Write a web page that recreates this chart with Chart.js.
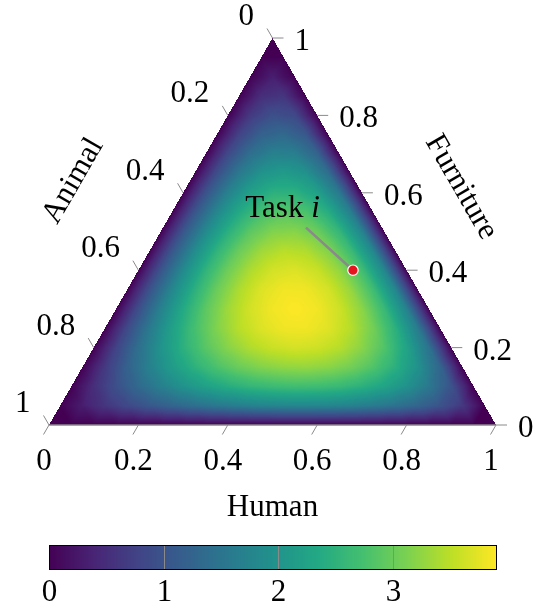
<!DOCTYPE html>
<html>
<head>
<meta charset="utf-8">
<script src="https://cdn.jsdelivr.net/npm/chart.js@4.4.0/dist/chart.umd.min.js"></script>
<style>
  html, body { margin: 0; padding: 0; background: #fff; }
  #wrap { position: relative; width: 533px; height: 606px; }
</style>
</head>
<body>
<div id="wrap"><canvas id="chart" width="533" height="606"></canvas></div>
<script>
// ternary axes: Human along the bottom, Furniture on the right, Animal on the left
const axisTitles = { human: 'Human', animal: 'Animal', furniture: 'Furniture' };
const ternaryTicks = [0, 0.2, 0.4, 0.6, 0.8, 1];
const ternaryTickLabels = ['0', '0.2', '0.4', '0.6', '0.8', '1'];
const colorbarTicks = [0, 1, 2, 3];
const colorbarMax = 3.9;

// density: one row per Furniture level 0, 0.05, ..., 1,
// entries along Human = 0, 0.05, ... up to 1 - Furniture
const density = [
  [0, 0, 0, 0, 0, 0, 0, 0, 0, 0, 0, 0, 0, 0, 0, 0, 0, 0, 0, 0, 0],
  [0, .32, .60, .85, 1.07, 1.26, 1.42, 1.56, 1.66, 1.74, 1.78, 1.79, 1.77, 1.71, 1.61, 1.47, 1.27, 1.00, .64, 0],
  [0, .51, .95, 1.33, 1.67, 1.97, 2.21, 2.41, 2.56, 2.65, 2.70, 2.68, 2.61, 2.47, 2.26, 1.96, 1.56, 1.00, 0],
  [0, .65, 1.21, 1.70, 2.12, 2.48, 2.78, 3.01, 3.17, 3.26, 3.28, 3.22, 3.07, 2.82, 2.46, 1.96, 1.27, 0],
  [0, .77, 1.42, 1.98, 2.47, 2.87, 3.19, 3.43, 3.58, 3.65, 3.61, 3.47, 3.21, 2.82, 2.26, 1.47, 0],
  [0, .86, 1.58, 2.20, 2.72, 3.15, 3.48, 3.70, 3.82, 3.83, 3.72, 3.47, 3.07, 2.47, 1.61, 0],
  [0, .92, 1.70, 2.35, 2.90, 3.33, 3.64, 3.83, 3.90, 3.83, 3.61, 3.22, 2.61, 1.71, 0],
  [0, .98, 1.78, 2.45, 3.00, 3.41, 3.70, 3.83, 3.82, 3.65, 3.28, 2.68, 1.77, 0],
  [0, 1.01, 1.83, 2.51, 3.03, 3.41, 3.64, 3.70, 3.58, 3.26, 2.70, 1.79, 0],
  [0, 1.03, 1.85, 2.51, 3.00, 3.33, 3.48, 3.43, 3.17, 2.65, 1.78, 0],
  [0, 1.03, 1.83, 2.45, 2.90, 3.15, 3.19, 3.01, 2.56, 1.74, 0],
  [0, 1.01, 1.78, 2.35, 2.72, 2.87, 2.78, 2.41, 1.66, 0],
  [0, .98, 1.70, 2.20, 2.47, 2.48, 2.21, 1.56, 0],
  [0, .92, 1.58, 1.98, 2.12, 1.97, 1.42, 0],
  [0, .86, 1.42, 1.70, 1.67, 1.26, 0],
  [0, .77, 1.21, 1.33, 1.07, 0],
  [0, .65, .95, .85, 0],
  [0, .51, .60, 0],
  [0, .32, 0],
  [0, 0],
  [0]
];

// the marked task and where its label sits
const taskPoint = { human: 0.48, animal: 0.12, furniture: 0.40 };
const taskLabelAt = { human: 0.32, animal: 0.17, furniture: 0.51 };

const viridisStops = ['#440154', '#482475', '#414487', '#355f8d', '#2a788e', '#21918c',
  '#22a884', '#44bf70', '#7ad151', '#bddf26', '#fde725'];

const FONT = '31px "Liberation Serif", "Times New Roman", serif';
const FONT_IT = 'italic 31px "Liberation Serif", "Times New Roman", serif';
const GRAY = '#8a8a8a';
const SQ = Math.sqrt(3) / 2;
const TICK_LEN = 11;

function toXY(p) {
  return { x: p.human + p.furniture / 2, y: p.furniture * SQ };
}

const viridisRgb = viridisStops.map(h => [1, 3, 5].map(k => parseInt(h.substr(k, 2), 16)));
function viridis(t) {
  t = Math.max(0, Math.min(1, t));
  const s = t * (viridisRgb.length - 1);
  const k = Math.min(Math.floor(s), viridisRgb.length - 2);
  const fr = s - k;
  const a = viridisRgb[k], b = viridisRgb[k + 1];
  return [0, 1, 2].map(c => Math.round(a[c] + (b[c] - a[c]) * fr));
}

function densityAt(i, j) {
  const row = density[i];
  if (!row || j < 0 || j >= row.length) return 0;
  return row[j];
}

// shaded like a mesh: linear inside each small triangle of the grid
function sampleDensity(h, f) {
  const n = density.length - 1;
  const u = f * n, v = h * n;
  const i = Math.max(0, Math.min(Math.floor(u), n - 1));
  const j = Math.max(0, Math.min(Math.floor(v), n - 1 - i));
  const fu = u - i, fv = v - j;
  if (fu + fv <= 1) {
    return densityAt(i, j) * (1 - fu - fv) + densityAt(i + 1, j) * fu + densityAt(i, j + 1) * fv;
  }
  return densityAt(i + 1, j + 1) * (fu + fv - 1) + densityAt(i + 1, j) * (1 - fv) + densityAt(i, j + 1) * (1 - fu);
}

const heatmapPlugin = {
  id: 'heatmap',
  beforeDatasetsDraw(chart) {
    const { ctx, scales: { x, y } } = chart;
    const x0 = Math.floor(x.getPixelForValue(0)), x1 = Math.ceil(x.getPixelForValue(1));
    const y0 = Math.floor(y.getPixelForValue(SQ)), y1 = Math.ceil(y.getPixelForValue(0));
    const w = x1 - x0 + 1, h = y1 - y0 + 1;
    const off = document.createElement('canvas');
    off.width = w; off.height = h;
    const octx = off.getContext('2d');
    const img = octx.createImageData(w, h);
    for (let py = 0; py < h; py++) {
      const f = y.getValueForPixel(y0 + py + 0.5) / SQ;
      for (let px = 0; px < w; px++) {
        const hu = x.getValueForPixel(x0 + px + 0.5) - f / 2;
        const an = 1 - hu - f;
        if (f < 0 || hu < 0 || an < 0) continue;
        const c = viridis(sampleDensity(hu, f) / colorbarMax);
        const k = (py * w + px) * 4;
        img.data[k] = c[0]; img.data[k + 1] = c[1]; img.data[k + 2] = c[2]; img.data[k + 3] = 255;
      }
    }
    octx.putImageData(img, 0, 0);
    ctx.drawImage(off, x0, y0);
  }
};

function line(ctx, a, b, color, width) {
  ctx.beginPath();
  ctx.moveTo(a.x, a.y);
  ctx.lineTo(b.x, b.y);
  ctx.strokeStyle = color;
  ctx.lineWidth = width;
  ctx.stroke();
}

const axesPlugin = {
  id: 'ternaryAxes',
  afterDraw(chart) {
    const { ctx, scales: { x, y, cb } } = chart;
    const px = p => { const c = toXY(p); return { x: x.getPixelForValue(c.x), y: y.getPixelForValue(c.y) }; };
    ctx.save();
    ctx.fillStyle = '#000';
    ctx.font = FONT;
    ctx.lineCap = 'butt';

    // bottom axis line
    line(ctx, px({ human: 0, animal: 1, furniture: 0 }), px({ human: 1, animal: 0, furniture: 0 }), GRAY, 1.3);

    ternaryTicks.forEach((t, k) => {
      const lab = ternaryTickLabels[k];
      // Human
      let p = px({ human: t, animal: 1 - t, furniture: 0 });
      let e = { x: p.x - TICK_LEN * 0.5, y: p.y + TICK_LEN * SQ };
      line(ctx, p, e, GRAY, 1);
      ctx.textAlign = 'center';
      ctx.textBaseline = 'alphabetic';
      ctx.fillText(lab, e.x + 0.5, e.y + 35.5);
      // Furniture
      p = px({ human: 1 - t, animal: 0, furniture: t });
      e = { x: p.x + TICK_LEN, y: p.y };
      line(ctx, p, e, GRAY, 1);
      ctx.textAlign = 'left';
      ctx.fillText(lab, e.x + 11, p.y + 12);
      // Animal
      p = px({ human: 0, animal: t, furniture: 1 - t });
      e = { x: p.x - TICK_LEN * 0.5, y: p.y - TICK_LEN * SQ };
      line(ctx, p, e, GRAY, 1);
      ctx.textAlign = 'right';
      ctx.fillText(lab, e.x - 13, e.y - 3.5);
    });

    // axis titles
    const bl = px({ human: 0, animal: 1, furniture: 0 });
    const br = px({ human: 1, animal: 0, furniture: 0 });
    ctx.textAlign = 'center';
    ctx.fillText(axisTitles.human, (bl.x + br.x) / 2, bl.y + 91);
    const lm = px({ human: 0, animal: 0.5, furniture: 0.5 });
    ctx.save();
    ctx.translate(lm.x - 103.5 * SQ, lm.y - 103.5 * 0.5);
    ctx.rotate(-Math.PI / 3);
    ctx.fillText(axisTitles.animal, 0, 10.5);
    ctx.restore();
    const rm = px({ human: 0.5, animal: 0, furniture: 0.5 });
    ctx.save();
    ctx.translate(rm.x + 91 * SQ, rm.y - 91 * 0.5);
    ctx.rotate(Math.PI / 3);
    ctx.fillText(axisTitles.furniture, 0, 10.5);
    ctx.restore();

    // task label: "Task i"
    const s = px(taskLabelAt);
    const w1 = ctx.measureText('Task ').width;
    ctx.font = FONT_IT;
    const w2 = ctx.measureText('i').width;
    const left = s.x - 23.5 - (w1 + w2) / 2;
    ctx.textAlign = 'left';
    ctx.font = FONT;
    ctx.fillText('Task ', left, s.y - 10.5);
    ctx.font = FONT_IT;
    ctx.fillText('i', left + w1, s.y - 10.5);
    ctx.font = FONT;

    // colorbar
    const top = 545, bottom = 569;
    const c0 = Math.round(cb.getPixelForValue(0)), c1 = Math.round(cb.getPixelForValue(colorbarMax)) + 1;
    for (let q = c0; q < c1; q++) {
      const c = viridis(cb.getValueForPixel(q + 0.5) / colorbarMax);
      ctx.fillStyle = `rgb(${c[0]},${c[1]},${c[2]})`;
      ctx.fillRect(q, top, 1, bottom - top);
    }
    colorbarTicks.forEach(v => {
      const q = Math.round(cb.getPixelForValue(v)) + 0.5;
      if (v > 0) line(ctx, { x: q, y: top }, { x: q, y: bottom }, GRAY, 1);
      ctx.fillStyle = '#000';
      ctx.textAlign = 'center';
      ctx.fillText(String(v), q, 601);
    });
    ctx.strokeStyle = '#000';
    ctx.lineWidth = 1;
    ctx.strokeRect(c0 + 0.5, top + 0.5, c1 - c0 - 1, bottom - top);
    ctx.restore();
  }
};

new Chart(document.getElementById('chart'), {
  type: 'scatter',
  data: {
    datasets: [
      {
        data: [toXY(taskPoint)],
        pointRadius: 5.2,
        pointBackgroundColor: '#e4151f',
        pointBorderColor: '#ffffff',
        pointBorderWidth: 1.2
      },
      {
        type: 'line',
        data: [toXY(taskLabelAt), toXY(taskPoint)],
        borderColor: GRAY,
        borderWidth: 2.6,
        pointRadius: 0,
        fill: false
      }
    ]
  },
  options: {
    responsive: false,
    animation: false,
    events: [],
    devicePixelRatio: 1,
    layout: { padding: { left: 49, right: 37, top: 38, bottom: 181 } },
    plugins: { legend: { display: false }, tooltip: { enabled: false } },
    scales: {
      x: { type: 'linear', min: 0, max: 1, display: false },
      y: { type: 'linear', min: 0, max: SQ, display: false },
      cb: { type: 'linear', axis: 'x', position: 'bottom', min: 0, max: colorbarMax, display: false }
    }
  },
  plugins: [heatmapPlugin, axesPlugin]
});
</script>
</body>
</html>
